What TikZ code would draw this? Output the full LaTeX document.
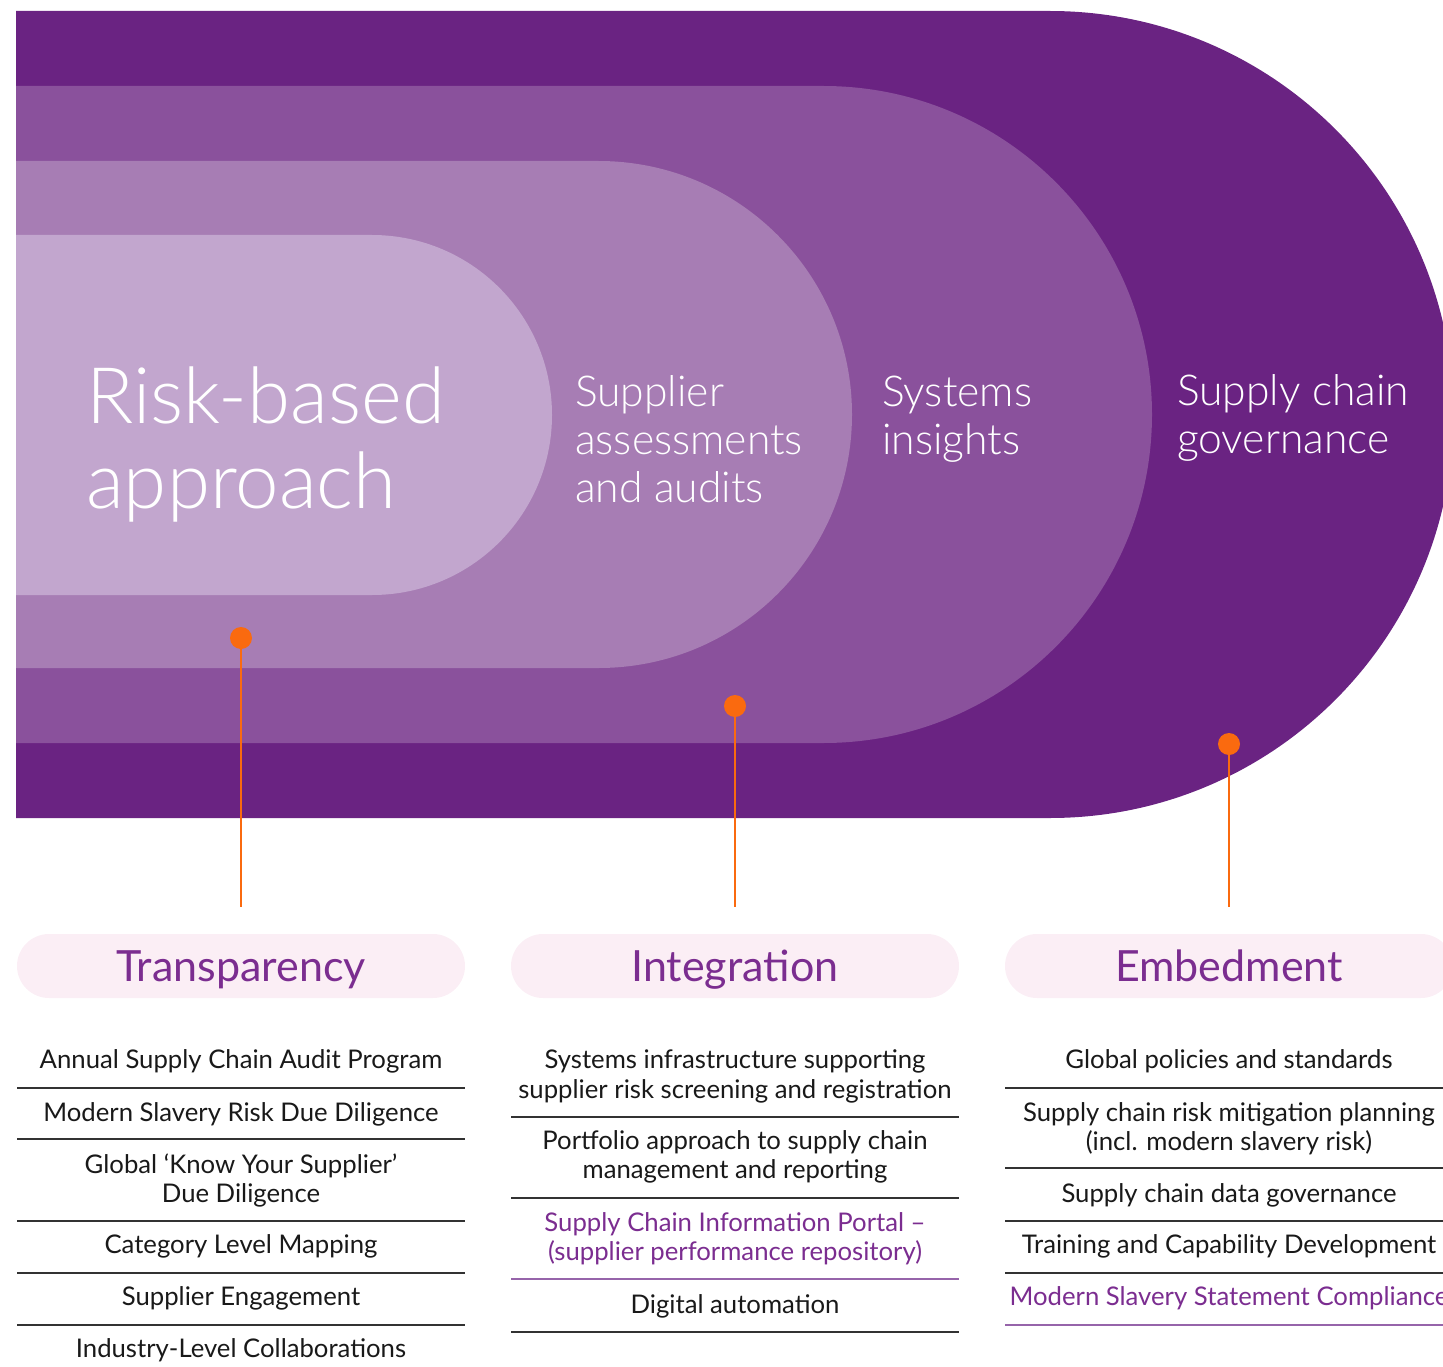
\documentclass[tikz,border=0pt]{standalone}
\usepackage{fontspec}
\setmainfont{Lato}
\newfontfamily\lightfont{Lato Light}
\definecolor{outerc}{RGB}{106,35,130}
\definecolor{layertwo}{RGB}{138,81,156}
\definecolor{layerthree}{RGB}{167,125,180}
\definecolor{innerc}{RGB}{194,166,206}
\definecolor{orangec}{RGB}{250,106,15}
\definecolor{pillc}{RGB}{251,238,245}
\definecolor{purpletxt}{RGB}{123,45,144}
\definecolor{rulepurple}{RGB}{150,100,170}
\definecolor{bodytxt}{RGB}{25,25,25}
\definecolor{rulegray}{RGB}{50,50,50}
\begin{document}
\begin{tikzpicture}[x=1pt,y=-1pt,
  bigtxt/.style={inner sep=0pt,anchor=base west,text=white,font=\lightfont\fontsize{78}{85}\selectfont},
  midtxt/.style={inner sep=0pt,anchor=base west,text=white,font=\lightfont\fontsize{42.6}{48}\selectfont},
  pill/.style={fill=pillc,rounded corners=32pt,minimum width=448pt,minimum height=64pt,inner sep=0pt,
    text=purpletxt,font=\fontsize{43}{48}\selectfont,text height=31pt,text depth=0pt},
  dot/.style={circle,fill=orangec,minimum size=22pt,inner sep=0pt},
  stem/.style={draw=orangec,line width=2.5pt},
  itemtxt/.style={inner sep=0pt,anchor=base,text=bodytxt,font=\fontsize{25.7}{30}\selectfont},
  itemhl/.style={itemtxt,text=purpletxt},
  rulebk/.style={draw=rulegray,line width=1.5pt},
  rulepu/.style={draw=rulepurple,line width=1.5pt}]
\useasboundingbox (0,0) rectangle (1443,1367);
\clip (0,0) rectangle (1443,1367);

% nested layers
\fill[outerc] (16,11) -- (1050,11) arc[start angle=-90,end angle=90,radius=403.5] -- (16,818) -- cycle;
\fill[layertwo] (16,86) -- (823.5,86) arc[start angle=-90,end angle=90,radius=328.5] -- (16,743) -- cycle;
\fill[layerthree] (16,161) -- (598.5,161) arc[start angle=-90,end angle=90,radius=253.5] -- (16,668) -- cycle;
\fill[innerc] (16,235) -- (372,235) arc[start angle=-90,end angle=90,radius=180] -- (16,595) -- cycle;

% layer labels
\node[bigtxt] (rb1) at (86,423) {Risk-based};
\node[bigtxt] (rb2) at (86,508) {approach};
\node[midtxt] (sa1) at (575,406) {Supplier};
\node[midtxt] (sa2) at (575,454) {assessments};
\node[midtxt] (sa3) at (575,502) {and audits};
\node[midtxt] (si1) at (882,406) {Systems};
\node[midtxt] (si2) at (882,454) {insights};
\node[midtxt] (sg1) at (1177,405) {Supply chain};
\node[midtxt] (sg2) at (1177,453) {governance};

% dots and stems
\node[dot] (d1) at (241,638) {};
\node[dot] (d2) at (735,706) {};
\node[dot] (d3) at (1229,744) {};
\coordinate (e1) at (241,907);
\coordinate (e2) at (735,907);
\coordinate (e3) at (1229,907);
\draw[stem] (d1.south) -- (e1);
\draw[stem] (d2.south) -- (e2);
\draw[stem] (d3.south) -- (e3);

% pills
\node[pill] (p1) at (241,966) {Transparency};
\node[pill] (p2) at (735,966) {Integration};
\node[pill] (p3) at (1229,966) {Embedment};

% Transparency list
\node[itemtxt] (t1) at (241,1068) {Annual Supply Chain Audit Program};
\draw[rulebk] (17,1088) -- (465,1088);
\node[itemtxt] (t2) at (241,1121) {Modern Slavery Risk Due Diligence};
\draw[rulebk] (17,1139) -- (465,1139);
\node[itemtxt] (t3a) at (241,1173) {Global ‘Know Your Supplier’};
\node[itemtxt] (t3b) at (241,1202) {Due Diligence};
\draw[rulebk] (17,1221) -- (465,1221);
\node[itemtxt] (t4) at (241,1253) {Category Level Mapping};
\draw[rulebk] (17,1273) -- (465,1273);
\node[itemtxt] (t5) at (241,1305) {Supplier Engagement};
\draw[rulebk] (17,1325) -- (465,1325);
\node[itemtxt] (t6) at (241,1357) {Industry-Level Collaborations};

% Integration list
\node[itemtxt] (i1a) at (735,1068) {Systems infrastructure supporting};
\node[itemtxt] (i1b) at (735,1098) {supplier risk screening and registration};
\draw[rulebk] (511,1117) -- (959,1117);
\node[itemtxt] (i2a) at (735,1149) {Portfolio approach to supply chain};
\node[itemtxt] (i2b) at (735,1178) {management and reporting};
\draw[rulebk] (511,1198) -- (959,1198);
\node[itemhl] (i3a) at (735,1231) {Supply Chain Information Portal –};
\node[itemhl] (i3b) at (735,1260) {(supplier performance repository)};
\draw[rulepu] (511,1279) -- (959,1279);
\node[itemtxt] (i4) at (735,1313) {Digital automation};
\draw[rulebk] (511,1332) -- (959,1332);

% Embedment list
\node[itemtxt] (m1) at (1229,1068) {Global policies and standards};
\draw[rulebk] (1005,1088) -- (1453,1088);
\node[itemtxt] (m2a) at (1229,1121) {Supply chain risk mitigation planning};
\node[itemtxt] (m2b) at (1229,1150) {(incl. modern slavery risk)};
\draw[rulebk] (1005,1168) -- (1453,1168);
\node[itemtxt] (m3) at (1229,1202) {Supply chain data governance};
\draw[rulebk] (1005,1221) -- (1453,1221);
\node[itemtxt] (m4) at (1229,1253) {Training and Capability Development};
\draw[rulebk] (1005,1273) -- (1453,1273);
\node[itemhl] (m5) at (1229,1305) {Modern Slavery Statement Compliance};
\draw[rulepu] (1005,1325) -- (1453,1325);
\end{tikzpicture}
\end{document}
